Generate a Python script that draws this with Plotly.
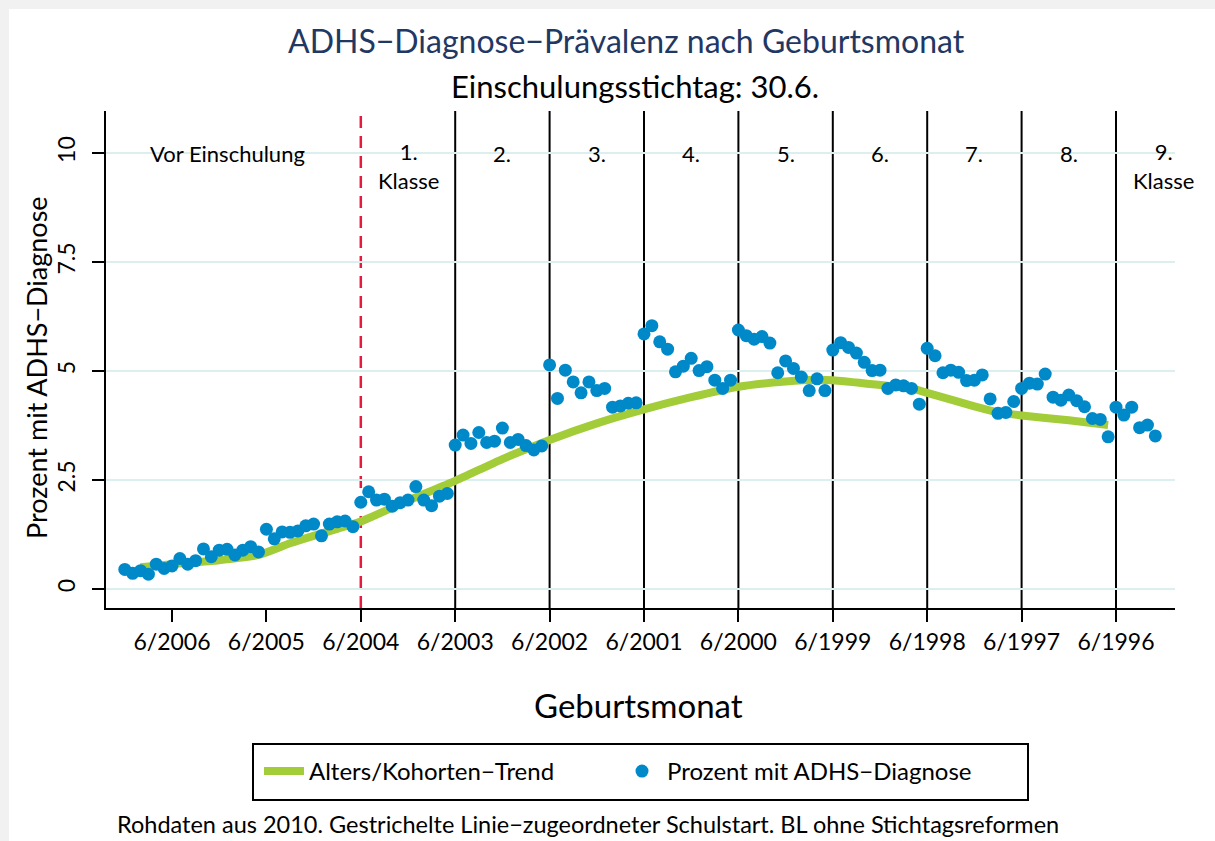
import plotly.graph_objects as go

# ---------------- data ----------------
first_month = "12/2006"   # newest birth month (leftmost point), points go back monthly
prevalence = [
    0.45, 0.36, 0.42, 0.34, 0.57, 0.47, 0.53, 0.70, 0.57, 0.65, 0.92, 0.74,
    0.89, 0.91, 0.78, 0.89, 0.97, 0.85, 1.37, 1.15, 1.31, 1.30, 1.33, 1.45,
    1.49, 1.22, 1.49, 1.54, 1.56, 1.43, 1.99, 2.23, 2.04, 2.06, 1.90, 1.98,
    2.04, 2.35, 2.04, 1.91, 2.13, 2.19, 3.30, 3.53, 3.34, 3.59, 3.36, 3.39,
    3.69, 3.36, 3.43, 3.29, 3.19, 3.28, 5.14, 4.37, 5.02, 4.75, 4.50, 4.75,
    4.55, 4.60, 4.17, 4.20, 4.26, 4.27, 5.85, 6.04, 5.67, 5.50, 4.98, 5.11,
    5.29, 5.01, 5.10, 4.79, 4.60, 4.79, 5.94, 5.81, 5.73, 5.79, 5.64, 4.96,
    5.23, 5.06, 4.86, 4.55, 4.82, 4.55, 5.48, 5.65, 5.54, 5.41, 5.20, 5.01,
    5.02, 4.60, 4.68, 4.66, 4.60, 4.24, 5.52, 5.35, 4.96, 5.02, 4.97, 4.78,
    4.79, 4.91, 4.36, 4.03, 4.05, 4.30, 4.60, 4.72, 4.70, 4.93, 4.40, 4.33,
    4.45, 4.32, 4.18, 3.91, 3.89, 3.49, 4.17, 3.99, 4.17, 3.70, 3.76, 3.51,
]

trend_months = ["10/2006", "6/2006", "12/2005", "7/2005", "3/2005", "12/2004",
                "9/2004", "6/2004", "12/2003", "6/2003", "12/2002", "6/2002",
                "12/2001", "6/2001", "12/2000", "6/2000", "12/1999", "8/1999",
                "6/1999", "12/1998", "8/1998", "6/1998", "12/1997", "9/1997",
                "6/1997", "12/1996", "7/1996"]
trend_values = [0.50, 0.57, 0.66, 0.78, 1.05, 1.22,
                1.38, 1.55, 2.03, 2.48, 2.98, 3.42,
                3.80, 4.12, 4.40, 4.64, 4.76, 4.80,
                4.79, 4.68, 4.60, 4.50, 4.19, 4.05,
                3.98, 3.87, 3.76]

tick_labels = ["6/2006", "6/2005", "6/2004", "6/2003", "6/2002", "6/2001",
               "6/2000", "6/1999", "6/1998", "6/1997", "6/1996"]
cutoff_month = "6/2004"
grade_lines = ["6/2003", "6/2002", "6/2001", "6/2000", "6/1999",
               "6/1998", "6/1997", "6/1996"]
grade_labels = ["1.<br>Klasse", "2.", "3.", "4.", "5.", "6.", "7.", "8.",
                "9.<br>Klasse"]
grade_label_months = ["12/2003", "12/2002", "12/2001", "12/2000", "12/1999",
                      "12/1998", "12/1997", "12/1996", "12/1995"]
preschool_label = "Vor Einschulung"
preschool_label_month = "11/2005"

y_ticks = [0, 2.5, 5, 7.5, 10]
y_ticktext = ["0", "2.5", "5", "7.5", "10"]


def dec(m):
    mm, yy = m.split("/")
    return int(yy) + (int(mm) - 1) / 12.0


# birth months for the monthly points
fm, fy = (int(v) for v in first_month.split("/"))
birth_x = []
for i in range(len(prevalence)):
    k = (fy * 12 + fm - 1) - i
    birth_x.append(k // 12 + (k % 12) / 12.0)

FONT = "Lato"
BLUE = "#0089c9"
GREEN = "#a3cc39"
RED = "#e8193f"
NAVY = "#1f3864"

fig = go.Figure()
fig.add_trace(go.Scatter(
    x=[dec(m) for m in trend_months], y=trend_values, mode="lines",
    line=dict(color=GREEN, width=8, shape="spline", smoothing=0.6),
    name="Alters/Kohorten\u2212Trend"))
fig.add_trace(go.Scatter(
    x=birth_x, y=prevalence, mode="markers",
    marker=dict(color=BLUE, size=13, line=dict(width=0)),
    name="Prozent mit ADHS\u2212Diagnose"))

shapes = []
L, R, T, B = 106, 1175, 111, 608
W, H = R - L, B - T
def px(x):
    return (x - L) / W
def py(y):
    return (B - y) / H
# page look: grey margin at left/top
shapes.append(dict(type="rect", xref="paper", yref="paper", x0=px(9), x1=px(1216),
                   y0=py(842), y1=py(9), fillcolor="white", line=dict(width=0),
                   layer="below"))
for m in grade_lines:
    shapes.append(dict(type="line", xref="x", yref="paper", x0=dec(m), x1=dec(m),
                       y0=0, y1=1, line=dict(color="black", width=2), layer="below"))
shapes.append(dict(type="line", xref="x", yref="paper", x0=dec(cutoff_month),
                   x1=dec(cutoff_month), y0=0, y1=1,
                   line=dict(color=RED, width=2.5, dash="12px,8px"), layer="below"))
# legend frame
shapes.append(dict(type="rect", xref="paper", yref="paper", x0=px(253), x1=px(1028),
                   y0=py(800), y1=py(744), line=dict(color="black", width=2),
                   fillcolor="rgba(0,0,0,0)", layer="above"))

ann = []
lab_font = dict(family=FONT, size=22, color="black")
ann.append(dict(x=dec(preschool_label_month), y=10, xref="x", yref="y",
                text=preschool_label, showarrow=False, font=lab_font,
                xanchor="center", yanchor="middle"))
for lab, m in zip(grade_labels, grade_label_months):
    two = "<br>" in lab
    ann.append(dict(x=dec(m), y=(589 - 166) / 43.6 if two else 10, xref="x", yref="y",
                    text=lab, showarrow=False, font=lab_font,
                    xanchor="center", yanchor="middle"))

ann.append(dict(x=px(626), y=py(40), xref="paper", yref="paper",
                text="ADHS\u2212Diagnose\u2212Prävalenz nach Geburtsmonat",
                showarrow=False, font=dict(family=FONT, size=32, color=NAVY),
                xanchor="center", yanchor="middle"))
ann.append(dict(x=px(635), y=py(86), xref="paper", yref="paper",
                text="Einschulungsstichtag: 30.6.", showarrow=False,
                font=dict(family=FONT, size=31, color="black"),
                xanchor="center", yanchor="middle"))
ann.append(dict(x=px(638), y=py(705), xref="paper", yref="paper",
                text="Geburtsmonat", showarrow=False,
                font=dict(family=FONT, size=33, color="black"),
                xanchor="center", yanchor="middle"))
ann.append(dict(x=px(36), y=py(368), xref="paper", yref="paper",
                text="Prozent mit ADHS\u2212Diagnose", showarrow=False, textangle=-90,
                font=dict(family=FONT, size=27, color="black"),
                xanchor="center", yanchor="middle"))
ann.append(dict(x=px(588), y=py(824), xref="paper", yref="paper",
                text="Rohdaten aus 2010. Gestrichelte Linie\u2212zugeordneter Schulstart. BL ohne Stichtagsreformen",
                showarrow=False, font=dict(family=FONT, size=23.5, color="black"),
                xanchor="center", yanchor="middle"))

y_per_px = 10 / (589 - 153)
x_per_px = (dec("6/2006") - dec("6/1996")) / (1116 - 172)
x_left = dec("6/2006") + (172 - L) * x_per_px
x_right = dec("6/1996") - (R - 1116) * x_per_px
y_bot = -(B - 589) * y_per_px
y_top = 10 + (153 - T) * y_per_px

fig.update_layout(
    width=1215, height=841,
    margin=dict(l=L, r=1215 - R, t=T, b=841 - B),
    paper_bgcolor="#f1f1f1", plot_bgcolor="white",
    font=dict(family=FONT, color="black"),
    showlegend=True,
    legend=dict(orientation="h", x=px(259), xanchor="left", y=py(749), yanchor="top",
                borderwidth=0, bgcolor="rgba(0,0,0,0)",
                font=dict(family=FONT, size=24), entrywidth=303,
                itemwidth=40, tracegroupgap=0),
    xaxis=dict(range=[x_left, x_right], tickvals=[dec(t) for t in tick_labels],
               ticktext=tick_labels, ticks="outside", ticklen=12, tickwidth=2,
               tickcolor="black", showline=True, linewidth=2, linecolor="black",
               showgrid=False, zeroline=False, tickfont=dict(family=FONT, size=23)),
    yaxis=dict(range=[y_bot, y_top], tickvals=y_ticks, ticktext=y_ticktext,
               tickangle=-90, ticks="outside", ticklen=12, tickwidth=2,
               tickcolor="black", showline=True, linewidth=2, linecolor="black",
               showgrid=True, gridcolor="#dcefef", gridwidth=2, zeroline=False,
               ticklabelstandoff=8,
               tickfont=dict(family=FONT, size=23)),
    shapes=shapes, annotations=ann,
)

fig.write_html("out.html", config={"displayModeBar": False},
               post_script="document.body.style.margin='0';")
